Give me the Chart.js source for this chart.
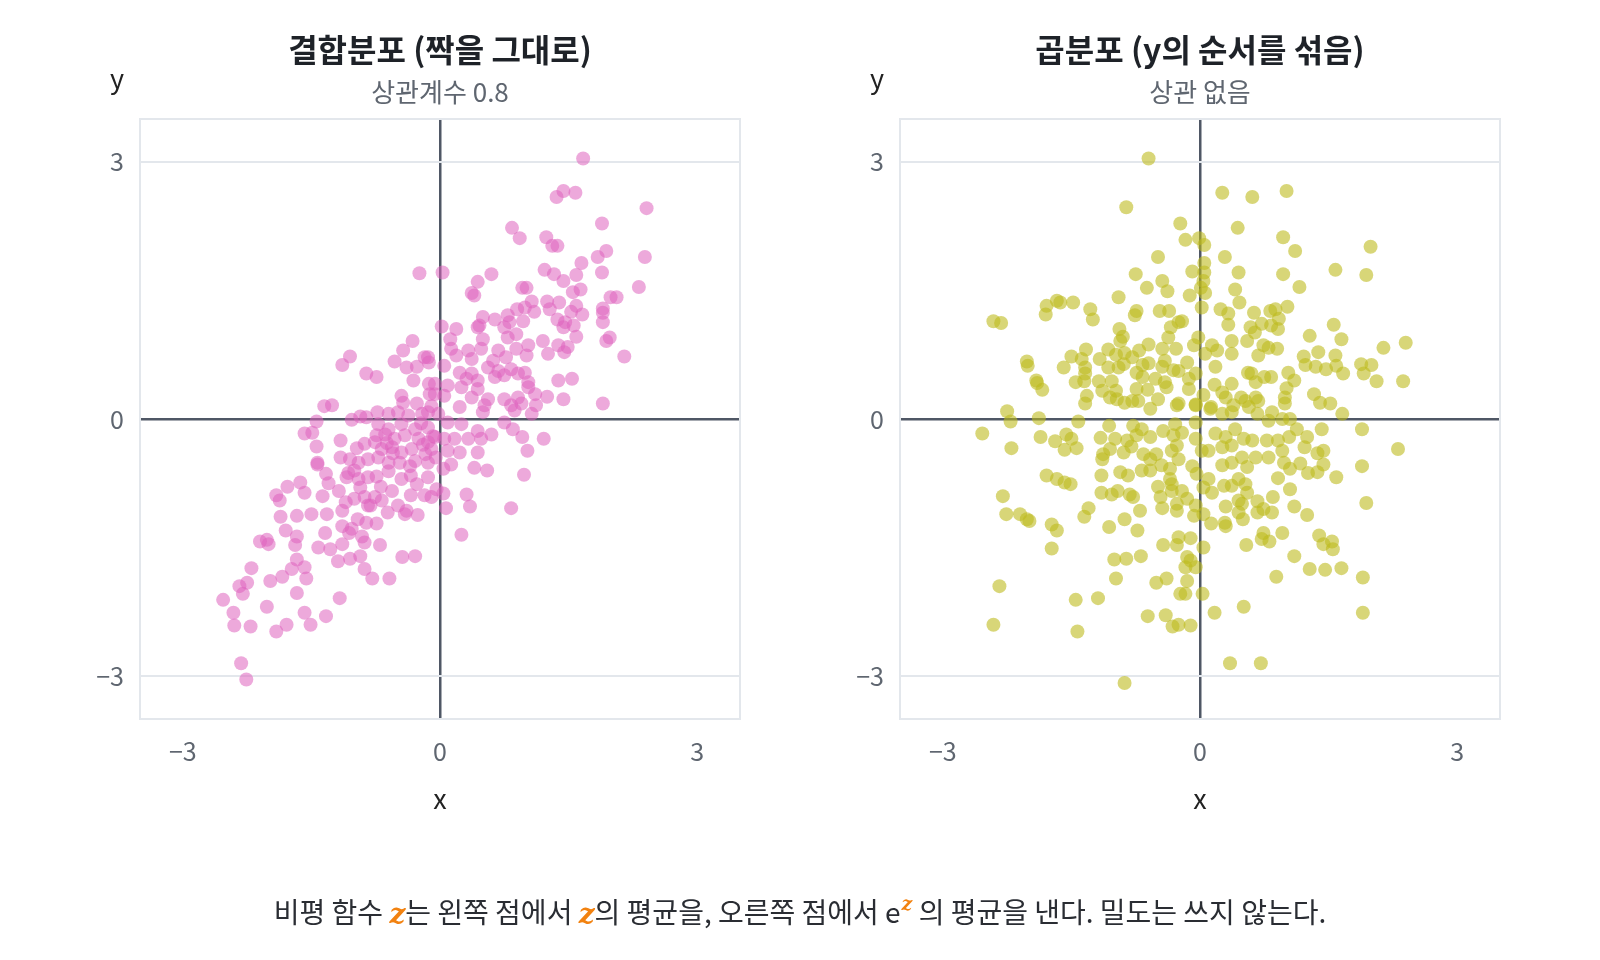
<!DOCTYPE html>
<html><head><meta charset="utf-8">
<script src="https://cdn.jsdelivr.net/npm/chart.js@4.4.1/dist/chart.umd.min.js"></script>
<style>
html,body{margin:0;padding:0;background:#fff;}
body{width:1600px;height:960px;position:relative;overflow:hidden;font-family:"Noto Sans CJK KR","Noto Sans",sans-serif;}
canvas{position:absolute;top:0;}
.t{position:absolute;transform:translateX(-50%);white-space:nowrap;line-height:1;}
.title{font-weight:700;font-size:32px;color:#1e2228;top:32px;}
.sub{font-size:26px;color:#5f6670;top:78px;}
.lab{font-size:27px;color:#222;}
.foot{font-size:28px;color:#2a2d33;top:897px;left:800px;}
.z{color:#f28210;font-family:"DejaVu Serif",serif;font-style:italic;font-weight:700;}
sup.z{font-size:19px;vertical-align:0;position:relative;top:-13px;margin-left:1px;}
</style>
</head><body>
<canvas id="c1" width="800" height="960" style="left:0"></canvas>
<canvas id="c2" width="800" height="960" style="left:800px"></canvas>
<div class="t title" style="left:440px">결합분포 (짝을 그대로)</div>
<div class="t sub" style="left:440px">상관계수 0.8</div>
<div class="t lab" style="left:117px;top:64px">y</div>
<div class="t lab" style="left:440px;top:784px">x</div>
<div class="t title" style="left:1200px">곱분포 (y의 순서를 섞음)</div>
<div class="t sub" style="left:1200px">상관 없음</div>
<div class="t lab" style="left:877px;top:64px">y</div>
<div class="t lab" style="left:1200px;top:784px">x</div>
<div class="t foot">비평 함수 <span class="z">z</span>는 왼쪽 점에서 <span class="z">z</span>의 평균을, 오른쪽 점에서 e<sup class="z">z</sup> 의 평균을 낸다. 밀도는 쓰지 않는다.</div>
<script>
// axis range and tick values
const axisMin = -3.5, axisMax = 3.5;
const tickValues = [-3, 0, 3];

// left panel: joint distribution (x, y) pairs
const jointPairs = [
[-1.43,-0.53],[-1.33,-0.64],[-1.30,-0.75],[-1.37,-0.90],[-1.18,-0.84],[-1.09,-0.68],[-1.00,-0.60],[-0.95,-0.70],[-0.84,-0.68],[-0.74,-0.67],
[-0.60,-0.61],[-0.45,-0.70],[-0.34,-0.66],[-0.27,-0.76],[-0.14,-0.68],[-1.78,-0.79],[-1.63,-0.74],[-1.58,-0.86],[-1.91,-0.89],[-1.87,-0.95],
[-1.86,-1.14],[-1.67,-1.13],[-1.50,-1.11],[-1.32,-1.11],[-1.14,-1.07],[-1.10,-0.97],[-1.00,-0.93],[-0.88,-0.91],[-0.84,-1.01],[-0.76,-0.91],
[-0.69,-0.79],[-0.56,-0.84],[-0.68,-0.95],[-0.61,-1.09],[-0.49,-1.01],[-0.41,-1.11],[-0.26,-1.12],[-0.34,-0.89],[-0.18,-0.89],[-1.80,-1.30],
[-1.67,-1.37],[-1.69,-1.47],[-2.10,-1.43],[-2.02,-1.41],[-2.00,-1.46],[-1.34,-1.33],[-1.14,-1.25],[-1.06,-1.33],[-0.96,-1.17],[-1.03,-1.28],
[-0.91,-1.37],[-0.86,-1.21],[-0.74,-1.22],[-1.14,-1.46],[-1.28,-1.52],[-1.42,-1.50],[-0.88,-1.44],[-0.93,-1.60],[-1.05,-1.63],[-1.19,-1.66],
[-0.70,-1.47],[-1.67,-1.64],[-1.73,-1.75],[-1.58,-1.73],[-1.56,-1.86],[-1.84,-1.84],[-1.98,-1.89],[-2.20,-1.74],[-2.25,-1.91],[-2.34,-1.95],
[-2.30,-2.04],[-2.53,-2.11],[-2.41,-2.26],[-2.40,-2.41],[-2.21,-2.42],[-2.02,-2.19],[-1.91,-2.48],[-1.79,-2.40],[-1.67,-2.03],[-1.58,-2.26],
[-1.51,-2.40],[-1.33,-2.30],[-1.17,-2.09],[-0.88,-1.75],[-0.79,-1.86],[-0.59,-1.86],[-0.44,-1.61],[-0.29,-1.60],[-2.32,-2.85],[-2.26,-3.04],
[-1.07,-0.63],[-0.93,-0.80],[-0.81,-1.01],[-0.39,-1.07],
[-0.32,0.91],[-0.43,0.80],[-0.53,0.67],[-1.05,0.73],[-1.14,0.63],[-0.86,0.53],[-0.74,0.49],[-0.18,0.72],[-0.27,0.61],[-0.39,0.60],
[-0.13,0.66],[-0.31,0.45],[-0.13,0.41],[-0.45,0.27],[-0.43,0.19],[-0.12,0.29],[-0.27,0.18],[-1.35,0.15],[-1.26,0.16],[-1.44,-0.03],
[-1.58,-0.17],[-1.49,-0.16],[-1.44,-0.32],[-1.43,-0.51],[-1.16,-0.25],[-1.03,-0.01],[-0.93,0.03],[-0.86,0.02],[-0.73,0.08],[-0.60,0.06],
[-0.49,0.08],[-0.37,0.04],[-0.21,0.06],[-0.72,-0.06],[-0.60,-0.12],[-0.45,-0.06],[-0.29,-0.12],[-0.14,-0.10],[-0.74,-0.19],[-0.64,-0.18],
[-0.53,-0.23],[-0.41,-0.19],[-0.25,-0.23],[-0.14,-0.27],[-0.97,-0.34],[-0.88,-0.29],[-0.76,-0.27],[-0.68,-0.35],[-0.56,-0.33],[-0.45,-0.39],
[-0.33,-0.35],[-0.17,-0.41],[-1.16,-0.45],[-1.05,-0.47],[-0.95,-0.51],[-0.84,-0.47],[-0.72,-0.45],[-0.60,-0.51],[-0.47,-0.51],[-0.29,-0.49],
[-0.14,-0.51],[-0.24,1.70],[-0.20,-0.30],[-0.08,-0.20],[-0.05,-0.45],[-0.35,-0.55],[-0.22,-0.05],[-0.10,0.15],[-0.55,-0.40],[-0.62,-0.28],
[1.67,3.04],[1.44,2.66],[1.36,2.59],[1.58,2.64],[2.41,2.46],[1.89,2.28],[0.84,2.23],[0.93,2.11],[1.24,2.12],[1.31,2.02],
[1.37,2.02],[1.94,1.96],[1.84,1.89],[2.39,1.89],[1.65,1.82],[1.89,1.71],[1.22,1.74],[1.33,1.69],[1.44,1.61],[1.59,1.68],
[0.03,1.71],[0.60,1.69],[0.44,1.60],[0.37,1.47],[0.40,1.44],[0.96,1.53],[1.01,1.53],[1.55,1.48],[1.64,1.51],[2.32,1.54],
[1.99,1.42],[2.06,1.42],[1.07,1.37],[1.25,1.37],[1.39,1.36],[1.59,1.32],[1.90,1.29],[1.90,1.24],[1.90,1.13],[0.90,1.28],
[0.99,1.30],[1.10,1.25],[1.28,1.28],[1.53,1.25],[1.66,1.22],[0.79,1.21],[0.81,1.13],[0.64,1.16],[0.50,1.19],[0.46,1.09],
[0.97,1.14],[1.37,1.16],[1.46,1.13],[1.56,1.09],[0.02,1.08],[0.19,1.05],
[0.44,1.07],[0.75,1.07],[1.44,1.07],[0.12,0.93],[0.50,0.93],[0.79,0.95],[0.89,0.99],[1.03,0.86],[1.20,0.91],[1.38,0.86],
[1.49,0.84],[1.59,0.96],[1.98,0.95],[1.94,0.91],[2.15,0.73],[0.13,0.82],[0.33,0.80],[0.48,0.82],[0.68,0.80],[0.89,0.82],
[1.01,0.74],[1.26,0.76],[1.45,0.78],[-0.14,0.72],[0.19,0.74],[0.37,0.70],[0.62,0.68],[0.77,0.72],[0.05,0.62],[0.23,0.54],
[0.37,0.53],[0.56,0.60],[0.68,0.56],[0.83,0.58],[0.99,0.54],[0.31,0.47],[0.44,0.45],[0.64,0.49],[0.75,0.51],[0.91,0.53],
[1.03,0.43],[1.38,0.45],[1.54,0.47],[-0.06,0.41],[0.09,0.39],[0.25,0.37],[0.44,0.35],[1.03,0.37],[-0.06,0.29],[0.05,0.27],
[0.37,0.25],[0.56,0.23],[0.75,0.23],[0.91,0.25],[1.11,0.29],[1.25,0.26],[1.44,0.23],[1.90,0.18],[0.23,0.14],[0.52,0.16],
[0.83,0.16],[0.95,0.18],[1.12,0.16],[0.50,0.08],[0.75,-0.04],[0.87,0.10],[1.07,0.06],[-0.14,0.08],[-0.02,0.06],[0.09,-0.04],
[0.25,-0.06],[0.44,-0.14],[0.60,-0.18],[0.85,-0.12],[0.96,-0.21],[1.21,-0.23],[1.02,-0.37],[-0.06,-0.21],[0.05,-0.23],[0.17,-0.23],
[0.33,-0.23],[0.48,-0.23],[-0.10,-0.35],[0.09,-0.37],[0.23,-0.39],[0.44,-0.39],[0.04,-0.58],[0.13,-0.53],[0.40,-0.57],[0.55,-0.60],
[0.98,-0.65],[-0.04,-0.82],[0.04,-0.87],[-0.10,-0.91],[0.31,-0.88],[0.35,-1.02],[0.07,-1.04],[0.83,-1.04],[0.25,-1.35]
];

// right panel: product distribution (y shuffled) pairs
const productPairs = [
[-0.60,3.04],[-0.86,2.47],[-0.23,2.28],[-0.49,1.89],[-0.75,1.69],[-0.44,1.61],[-0.38,1.49],[-0.62,1.53],[-0.95,1.42],[-0.74,1.26],
[-0.76,1.21],[-0.47,1.26],[-0.36,1.26],[-0.25,1.13],[-0.34,1.07],[-0.37,0.95],[-1.28,1.28],[-1.25,1.16],[-1.48,1.36],[-1.67,1.38],
[-1.63,1.36],[-1.79,1.32],[-1.80,1.22],[-2.41,1.14],[-2.32,1.12],[-0.94,1.05],[-0.90,0.96],[-0.93,0.91],[-0.60,0.87],[-0.44,0.82],
[-0.28,0.82],[-1.33,0.81],[-1.07,0.81],[-0.98,0.75],[-0.88,0.77],[-0.79,0.72],[-0.71,0.80],[-1.50,0.73],[-1.38,0.70],[-1.17,0.70],
[-2.02,0.67],[-2.01,0.62],[-1.59,0.60],[-1.34,0.60],[-1.07,0.60],[-0.95,0.60],[-0.89,0.64],[-0.67,0.63],[-0.60,0.65],[-0.41,0.68],
[-0.44,0.61],[-0.31,0.57],[-0.74,0.54],[-0.67,0.49],[-1.34,0.53],[-1.35,0.44],[-1.45,0.43],[-1.18,0.44],[-1.03,0.44],[-0.52,0.47],
[-0.41,0.43],[-0.39,0.37],[-1.91,0.45],[-1.90,0.42],[-1.84,0.34],[-1.32,0.27],[-1.14,0.33],[-0.98,0.33],[-0.74,0.35],[-0.61,0.34],
[-0.49,0.23],[-0.27,0.16],[-1.05,0.25],[-0.97,0.23],[-0.88,0.19],[-0.79,0.21],[-0.72,0.21],[-0.58,0.12],
[0.26,2.64],[0.61,2.59],[1.01,2.66],[0.44,2.23],[-0.17,2.09],[-0.01,2.11],[0.05,2.03],[0.97,2.12],[1.11,1.96],[1.99,2.01],
[0.29,1.89],[0.05,1.82],[0.05,1.71],[-0.09,1.72],[0.45,1.71],[0.97,1.69],[1.58,1.74],[1.94,1.68],[0.04,1.61],[0.01,1.53],
[0.06,1.47],[-0.12,1.44],[0.41,1.51],[1.16,1.54],[0.46,1.36],[0.02,1.30],[0.24,1.28],[0.33,1.23],[0.33,1.10],[0.63,1.24],
[0.82,1.26],[0.88,1.28],[0.92,1.17],[1.02,1.31],[0.72,1.11],[0.59,1.07],[0.64,1.01],[0.83,1.09],[0.91,1.05],[1.56,1.10],
[-0.21,1.14],[-0.07,0.86],[-0.02,0.95],[0.14,0.86],[0.20,0.80],[0.06,0.76],[0.37,0.91],[0.37,0.76],[0.55,0.91],[0.74,0.86],
[0.80,0.83],[0.90,0.82],[0.68,0.74],[1.28,0.97],[1.65,0.93],[2.14,0.83],[1.21,0.73],[1.38,0.78],[1.58,0.74],[1.23,0.63],
[1.35,0.61],[1.47,0.58],[1.59,0.62],[1.67,0.53],[1.88,0.64],[2.00,0.63],[1.91,0.53],[2.06,0.44],[-0.15,0.66],[-0.25,0.56],
[-0.13,0.47],[-0.05,0.53],[0.18,0.61],[-0.13,0.35],[0.04,0.28],[0.17,0.40],[0.26,0.31],[0.37,0.41],[0.30,0.25],[0.56,0.54],
[0.60,0.53],[0.65,0.43],[0.75,0.49],[0.83,0.49],[1.03,0.54],[1.10,0.45],[1.01,0.36],[0.99,0.25],[0.99,0.18],[0.48,0.25],
[0.53,0.21],[0.65,0.25],[0.68,0.21],[1.33,0.29],[1.40,0.19],[1.52,0.18],[-0.25,0.18],[-0.05,0.17],[0.13,0.14],[0.39,0.16],
[-2.25,0.09],[-2.21,-0.03],[-2.54,-0.17],[-2.20,-0.34],[-1.88,0.01],[-1.86,-0.21],[-1.42,-0.03],[-1.34,0.18],[-1.69,-0.26],[-1.56,-0.18],
[-1.50,-0.23],[-1.58,-0.36],[-1.44,-0.34],[-1.06,-0.08],[-1.16,-0.22],[-0.99,-0.23],[-1.05,-0.35],[-1.13,-0.41],[-1.14,-0.47],[-0.85,-0.25],
[-0.78,-0.08],[-0.68,-0.12],[-0.58,-0.21],[-0.74,-0.19],[-0.89,-0.39],[-0.80,-0.32],[-0.66,-0.41],[-0.51,-0.41],[-0.43,-0.14],[-0.31,-0.19],
[-0.27,-0.31],[-0.58,-0.47],[-0.45,-0.54],[-0.35,-0.58],[-0.58,-0.60],[-0.68,-0.60],[-0.93,-0.62],[-0.84,-0.66],[-1.15,-0.66],[-0.35,-0.70],
[-0.49,-0.79],[-0.33,-0.84],[-0.46,-0.91],[-0.96,-0.84],[-1.03,-0.88],[-1.15,-0.86],[-0.82,-0.88],[-0.78,-0.91],[-1.79,-0.66],[-1.67,-0.70],
[-1.58,-0.74],[-1.51,-0.76],[-2.30,-0.90],[-2.26,-1.11],[-2.10,-1.11],[-2.02,-1.17],[-1.99,-1.19],[-1.73,-1.23],[-1.67,-1.30],[-1.73,-1.51],
[-1.30,-1.04],[-1.35,-1.14],[-1.06,-1.26],[-0.88,-1.17],[-0.70,-1.07],[-0.73,-1.30],[-0.44,-1.04],[-0.27,-0.99],[-0.43,-1.47],[-0.27,-1.47],
[-1.00,-1.64],[-0.86,-1.63],[-0.69,-1.60],[-0.98,-1.86],[-0.51,-1.91],[-0.39,-1.86],[-2.34,-1.95],[-1.45,-2.11],[-1.19,-2.09],[-0.61,-2.30],
[-0.40,-2.29],[-0.32,-2.42],[-0.25,-2.40],[-2.41,-2.40],[-1.43,-2.48],[-0.23,-2.04],[-0.25,-1.38],
[-0.05,0.16],[0.12,0.12],[0.26,0.06],[0.37,0.08],[0.57,0.14],[0.67,0.06],[0.84,0.08],[0.80,-0.02],[0.96,0.00],[1.05,0.00],
[1.66,0.06],[-0.29,-0.06],[-0.21,-0.16],[-0.05,-0.04],[0.18,-0.17],[0.30,-0.21],[0.41,-0.12],[0.51,-0.23],[0.61,-0.25],[0.37,-0.31],
[0.78,-0.25],[0.91,-0.25],[1.04,-0.21],[1.13,-0.12],[1.25,-0.21],[1.22,-0.33],[1.42,-0.12],[1.89,-0.12],[1.44,-0.37],[1.37,-0.40],
[0.96,-0.37],[-0.05,-0.23],[0.02,-0.37],[0.10,-0.37],[0.26,-0.33],[0.65,-0.45],[0.80,-0.45],[-0.33,-0.37],[-0.25,-0.47],[-0.09,-0.55],
[0.26,-0.54],[0.37,-0.51],[0.49,-0.45],[0.55,-0.56],[0.98,-0.51],[1.05,-0.58],[1.17,-0.52],[1.26,-0.63],[1.37,-0.62],[1.44,-0.53],
[1.89,-0.55],[1.59,-0.68],[0.91,-0.69],[-0.04,-0.64],[0.10,-0.70],[0.45,-0.70],[0.53,-0.76],[-0.33,-0.76],[-0.21,-0.84],[0.04,-0.80],
[0.14,-0.86],[0.28,-0.78],[0.37,-0.78],[0.55,-0.86],[0.45,-0.95],[0.49,-0.99],[0.67,-0.96],[0.85,-0.91],[1.05,-0.82],[-0.15,-0.93],
[-0.05,-1.01],[-0.27,-1.07],[-0.07,-1.13],[0.04,-1.11],[0.30,-1.02],[0.45,-1.09],[0.50,-1.17],[0.67,-1.09],[0.74,-1.05],[0.84,-1.09],
[1.10,-1.02],[1.25,-1.12],[1.94,-0.98],[0.13,-1.22],[0.29,-1.21],[0.30,-1.25],[-0.11,-1.39],[0.04,-1.50],[0.54,-1.47],[0.72,-1.40],
[0.74,-1.33],[0.81,-1.43],[0.96,-1.33],[1.39,-1.36],[1.44,-1.46],[1.54,-1.43],[1.55,-1.52],[1.10,-1.60],[-0.15,-1.61],[-0.11,-1.65],
[-0.17,-1.73],[-0.05,-1.73],[-0.15,-1.89],[-0.17,-2.04],[0.03,-2.04],[0.89,-1.84],[1.28,-1.75],[1.46,-1.76],[1.65,-1.74],[1.90,-1.85],
[0.51,-2.19],[0.17,-2.26],[1.90,-2.26],[-0.11,-2.41],[0.35,-2.85],[0.71,-2.85],[-0.88,-3.08],[2.40,0.89],[2.37,0.44],[2.31,-0.35]
];

const FONT = '"Noto Sans CJK KR", "Noto Sans", sans-serif';
const AXIS_DARK = '#4f5765';
const GRID_LIGHT = '#e3e7ec';
const TICK_COLOR = '#5f6670';

function fmt(v){ return v < 0 ? '\u2212' + Math.abs(v) : String(v); }

const frame = {
  id: 'frame',
  beforeDatasetsDraw(chart){
    const a = chart.chartArea, ctx = chart.ctx;
    ctx.save();
    ctx.strokeStyle = GRID_LIGHT;
    ctx.lineWidth = 2;
    ctx.strokeRect(a.left, a.top, a.right - a.left, a.bottom - a.top);
    ctx.restore();
  }
};

function makeChart(id, pairs, color, pad){
  const data = pairs.map(p => ({x: p[0], y: p[1]}));
  return new Chart(document.getElementById(id), {
    type: 'scatter',
    data: { datasets: [{ data, backgroundColor: color, borderWidth: 0, pointRadius: 7, pointHoverRadius: 7 }] },
    options: {
      responsive: false, animation: false, devicePixelRatio: 1,
      layout: { padding: pad },
      plugins: { legend: {display:false}, tooltip: {enabled:false} },
      events: [],
      scales: {
        x: {
          type: 'linear', min: axisMin, max: axisMax,
          afterBuildTicks: s => { s.ticks = tickValues.map(v => ({value: v})); },
          afterFit: s => { s.height = 100; },
          ticks: { callback: v => fmt(v), color: TICK_COLOR, font: {family: FONT, size: 25}, padding: 17, maxRotation: 0 },
          grid: { drawTicks: false,
                  color: c => (c.tick && c.tick.value === 0) ? AXIS_DARK : 'rgba(0,0,0,0)',
                  lineWidth: c => (c.tick && c.tick.value === 0) ? 2.5 : 0 },
          border: { display: false }
        },
        y: {
          type: 'linear', min: axisMin, max: axisMax,
          afterBuildTicks: s => { s.ticks = tickValues.map(v => ({value: v})); },
          afterFit: s => { s.width = 60; },
          ticks: { callback: v => fmt(v), color: TICK_COLOR, font: {family: FONT, size: 25}, padding: 16 },
          grid: { drawTicks: false,
                  color: c => (c.tick && c.tick.value === 0) ? AXIS_DARK : GRID_LIGHT,
                  lineWidth: c => (c.tick && c.tick.value === 0) ? 2.5 : 2 },
          border: { display: false }
        }
      }
    },
    plugins: [frame]
  });
}

makeChart('c1', jointPairs, 'rgba(222,98,190,0.55)', {left: 80, right: 60, top: 119, bottom: 141});
makeChart('c2', productPairs, 'rgba(190,186,30,0.6)', {left: 40, right: 100, top: 119, bottom: 141});
</script>
</body></html>
